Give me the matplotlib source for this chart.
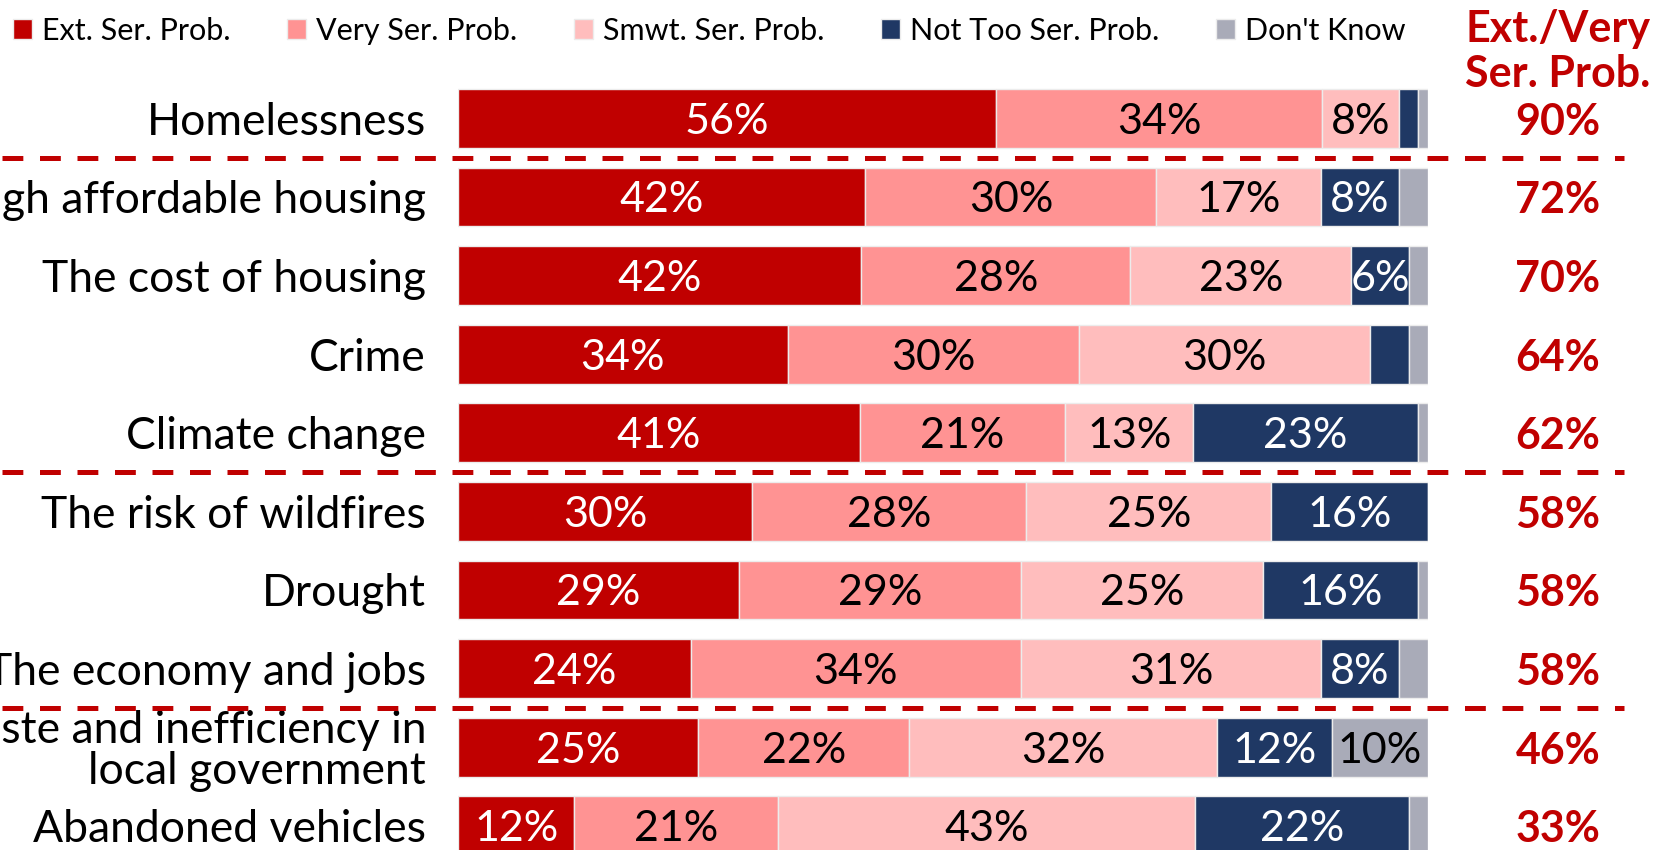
import numpy as np
import matplotlib
matplotlib.use("Agg")
import matplotlib.pyplot as plt

plt.rcParams["font.family"] = ["Lato", "DejaVu Sans"]
plt.rcParams["lines.scale_dashes"] = False

# ---- data -------------------------------------------------------------------
categories = [
    "Homelessness",
    "Not enough affordable housing",
    "The cost of housing",
    "Crime",
    "Climate change",
    "The risk of wildfires",
    "Drought",
    "The economy and jobs",
    "Waste and inefficiency in\nlocal government",
    "Abandoned vehicles",
]
series_names = ["Ext. Ser. Prob.", "Very Ser. Prob.", "Smwt. Ser. Prob.",
                "Not Too Ser. Prob.", "Don't Know"]
ext = [56, 42, 42, 34, 41, 30, 29, 24, 25, 12]
very = [34, 30, 28, 30, 21, 28, 29, 34, 22, 21]
smwt = [8, 17, 23, 30, 13, 25, 25, 31, 32, 43]
not_too = [2, 8, 6, 4, 23, 16, 16, 8, 12, 22]
dont_know = [1, 3, 2, 2, 1, 0, 1, 3, 10, 2]
ext_very = [90, 72, 70, 64, 62, 58, 58, 58, 46, 33]
group_ends = [0, 4, 7]          # dashed separator drawn after these rows

# ---- style ------------------------------------------------------------------
RED = "#C00000"
COLORS = [RED, "#FF9393", "#FFBDBD", "#1F3864", "#A9ABB8"]
TEXT_COLORS = ["white", "black", "black", "white", "black"]
MIN_LABEL = 5

fig = plt.figure(figsize=(16.58, 8.5), dpi=100)
ax = fig.add_axes([458 / 1658, 0, 970 / 1658, 1])

y = np.arange(len(categories))
data = np.array([ext, very, smwt, not_too, dont_know], dtype=float)
shares = data / data.sum(axis=0) * 100      # each bar fills 100%

left = np.zeros(len(categories))
for k, name in enumerate(series_names):
    ax.barh(y, shares[k], left=left, height=0.75, color=COLORS[k],
            edgecolor="#ececec", linewidth=1, label=name)
    for i in range(len(categories)):
        if data[k, i] >= MIN_LABEL:
            ax.text(left[i] + shares[k, i] / 2, y[i], f"{data[k, i]:.0f}%",
                    ha="center", va="center_baseline", fontsize=31,
                    color=TEXT_COLORS[k])
    left += shares[k]

# net column on the right
for i, v in enumerate(ext_very):
    ax.text(113.4, y[i], f"{v}%", ha="center", va="center_baseline",
            fontsize=31, fontweight="bold", color=RED, clip_on=False)
ax.text(113.4, -0.85, "Ext./Very\nSer. Prob.", ha="center", va="center",
        fontsize=31, fontweight="bold", color=RED, linespacing=1.14,
        clip_on=False)

# dashed group separators
trans = ax.get_yaxis_transform()
for g in group_ends:
    ax.plot([-0.47, 1.202], [g + 0.5, g + 0.5], transform=trans,
            color=RED, lw=3.6, linestyle=(0, (15, 12)), clip_on=False)

ax.set_xlim(0, 100)
ax.set_ylim(9.308, -1.506)
ax.set_yticks(y, categories, fontsize=32)
for t in ax.get_yticklabels():
    t.set_linespacing(1.0)
ax.tick_params(axis="y", length=0, pad=23)
ax.set_xticks([])
for sp in ax.spines.values():
    sp.set_visible(False)

fig.legend(loc="center left", bbox_to_anchor=(13 / 1658, 1 - 31 / 850),
           ncol=5, frameon=False, fontsize=22, handlelength=0.62,
           handleheight=0.62, handletextpad=0.33, columnspacing=1.85,
           borderpad=0, borderaxespad=0)

fig.savefig("out.png", dpi=100)
